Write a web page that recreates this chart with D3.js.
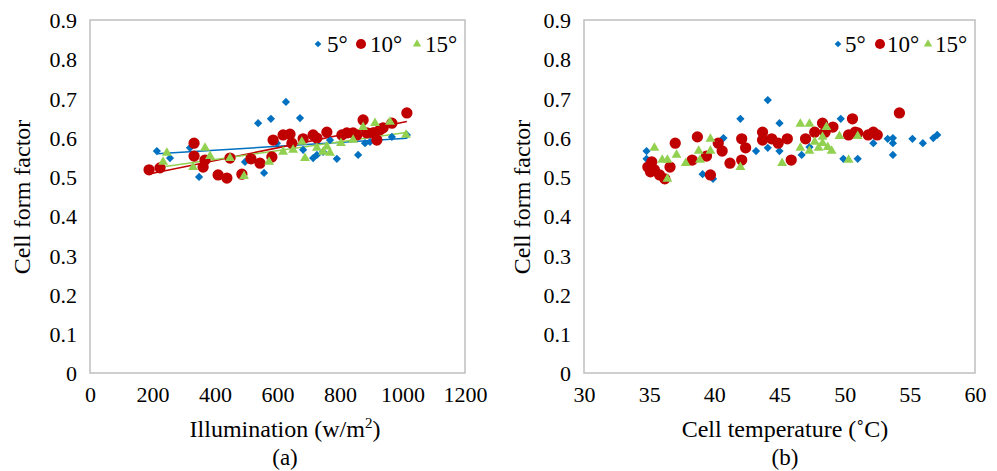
<!DOCTYPE html>
<html>
<head>
<meta charset="utf-8">
<script src="https://cdn.jsdelivr.net/npm/d3@7"></script>
<style>
  body { margin: 0; background: #fff; }
</style>
</head>
<body>
<div id="container"></div>
<script>
// data (a): illumination vs cell form factor
let illum5 = [[214,0.566],[256,0.548],[320,0.574],[349,0.500],[496,0.538],[538,0.637],[579,0.648],[557,0.510],[627,0.691],[672,0.650],[598,0.586],[682,0.569],[714,0.548],[726,0.556],[746,0.564],[768,0.594],[790,0.546],[858,0.556],[880,0.586],[896,0.589],[966,0.602],[1014,0.607]];
let illum10 = [[189,0.518],[224,0.523],[333,0.586],[333,0.553],[362,0.525],[368,0.543],[410,0.505],[438,0.497],[448,0.548],[486,0.507],[515,0.546],[544,0.535],[582,0.551],[586,0.594],[618,0.607],[640,0.609],[646,0.586],[682,0.597],[714,0.607],[726,0.599],[758,0.614],[806,0.607],[822,0.612],[842,0.612],[854,0.607],[874,0.645],[886,0.612],[906,0.612],[918,0.594],[928,0.620],[938,0.625],[966,0.637],[1014,0.663]];
let illum15 = [[234,0.538],[246,0.561],[330,0.525],[368,0.574],[384,0.553],[448,0.548],[493,0.502],[573,0.538],[618,0.564],[650,0.569],[678,0.589],[688,0.548],[726,0.574],[746,0.564],[758,0.577],[768,0.561],[803,0.586],[842,0.594],[874,0.627],[912,0.637],[960,0.640],[1011,0.607]];

// data (b): cell temperature vs cell form factor
let temp5 = [[34.8,0.566],[34.8,0.546],[39.1,0.507],[39.9,0.495],[40.7,0.599],[42.0,0.648],[43.2,0.566],[44.1,0.696],[44.1,0.574],[45.0,0.637],[45.0,0.566],[46.7,0.556],[47.3,0.576],[49.7,0.648],[49.9,0.546],[51.0,0.546],[52.2,0.586],[53.3,0.597],[53.7,0.599],[53.7,0.586],[53.7,0.556],[55.2,0.597],[56.0,0.586],[56.8,0.599],[57.1,0.607]];
let temp10 = [[34.9,0.525],[35.2,0.538],[35.1,0.513],[35.4,0.518],[35.8,0.505],[36.2,0.495],[36.6,0.525],[37.0,0.586],[38.3,0.543],[38.7,0.602],[39.4,0.553],[39.7,0.505],[40.3,0.586],[40.6,0.566],[41.2,0.535],[42.1,0.597],[42.1,0.543],[42.4,0.574],[43.7,0.614],[43.7,0.594],[44.4,0.597],[44.9,0.586],[45.6,0.597],[45.9,0.543],[47.0,0.597],[47.7,0.614],[48.3,0.637],[48.5,0.614],[49.1,0.627],[50.3,0.607],[50.6,0.648],[50.8,0.614],[51.0,0.612],[51.8,0.607],[52.2,0.614],[52.5,0.607],[54.2,0.663]];
let temp15 = [[35.4,0.574],[36.0,0.543],[36.4,0.543],[36.4,0.495],[37.1,0.556],[37.8,0.535],[38.8,0.566],[38.9,0.543],[39.7,0.597],[39.7,0.566],[42.0,0.525],[45.2,0.535],[46.6,0.635],[46.6,0.574],[47.3,0.635],[47.3,0.566],[47.7,0.589],[48.0,0.574],[48.3,0.602],[48.3,0.586],[48.6,0.627],[48.7,0.576],[49.0,0.566],[49.6,0.604],[50.3,0.543],[51.0,0.604]];

let seriesNames = ["5°", "10°", "15°"];
let yTicks = [0, 0.1, 0.2, 0.3, 0.4, 0.5, 0.6, 0.7, 0.8, 0.9];
let xTicksA = [0, 200, 400, 600, 800, 1000, 1200];
let xTicksB = [30, 35, 40, 45, 50, 55, 60];

let serif = '"Liberation Serif", "Times New Roman", Times, Tinos, "Noto Serif", "DejaVu Serif", "Nimbus Roman", FreeSerif, serif';

//画布
let width = 997, height = 471;
let svg = d3.select("#container")
    .append('svg')
    .attr('width', width)
    .attr('height', height)
    .attr('font-family', serif);

let color = ["#0070C0", "#C00000", "#92D050"];
let shapes = [
    d3.symbol().type(d3.symbolSquare).size(34),
    d3.symbol().type(d3.symbolCircle).size(100),
    d3.symbol().type(d3.symbolTriangle).size(42)
];
let legendShapes = [
    d3.symbol().type(d3.symbolSquare).size(22),
    d3.symbol().type(d3.symbolCircle).size(80),
    d3.symbol().type(d3.symbolTriangle).size(30)
];

function fit(pts) {
    let mx = d3.mean(pts, d => d[0]), my = d3.mean(pts, d => d[1]);
    let sxy = d3.sum(pts, d => (d[0] - mx) * (d[1] - my));
    let sxx = d3.sum(pts, d => (d[0] - mx) * (d[0] - mx));
    let b = sxy / sxx;
    return [b, my - b * mx];
}

function txt(sel, size) {
    return sel.attr('font-family', serif).style('font-family', serif).style('font-size', size).style('fill', '#000');
}

function panel(opt) {
    let xScale = d3.scaleLinear().domain(opt.xDomain).range([opt.left, opt.right]);
    let yScale = d3.scaleLinear().domain([0, 0.9]).range([373, 20]);
    let g = svg.append('g');

    //边框
    g.append('rect')
        .attr('x', opt.left).attr('y', 20)
        .attr('width', opt.right - opt.left).attr('height', 353)
        .attr('fill', 'none').attr('stroke', '#bfbfbf').attr('stroke-width', 1.5);

    //坐标轴
    let yAxis = d3.axisLeft(yScale).tickValues(yTicks).tickSize(0).tickPadding(13)
        .tickFormat(d => d === 0 ? "0" : d3.format(".1f")(d));
    let yg = g.append('g').attr('transform', 'translate(' + opt.left + ',0)').call(yAxis);
    yg.attr('font-family', serif);
    yg.select('.domain').remove();
    txt(yg.selectAll('text'), '22px').attr('dy', '0.35em');

    let xAxis = d3.axisBottom(xScale).tickValues(opt.xTicks).tickSize(0).tickPadding(13)
        .tickFormat(d3.format("d"));
    let xg = g.append('g').attr('transform', 'translate(0,373)').call(xAxis);
    xg.attr('font-family', serif);
    xg.select('.domain').remove();
    txt(xg.selectAll('text'), '22px');

    //趋势线
    if (opt.trend) {
        opt.series.forEach(function (pts, i) {
            let ab = fit(pts);
            let x0 = d3.min(pts, d => d[0]), x1 = d3.max(pts, d => d[0]);
            g.append('line')
                .attr('x1', xScale(x0)).attr('y1', yScale(ab[0] * x0 + ab[1]))
                .attr('x2', xScale(x1)).attr('y2', yScale(ab[0] * x1 + ab[1]))
                .attr('stroke', color[i]).attr('stroke-width', 1.5);
        });
    }

    //画点
    opt.series.forEach(function (pts, i) {
        g.append('g').selectAll('path')
            .data(pts)
            .enter()
            .append('path')
            .attr('d', shapes[i])
            .attr('fill', color[i])
            .attr('transform', d => 'translate(' + xScale(d[0]) + ',' + yScale(d[1]) + ')' + (i === 0 ? ' rotate(45)' : ''));
    });

    //图例
    opt.legend.forEach(function (p, i) {
        g.append('path')
            .attr('d', legendShapes[i])
            .attr('fill', color[i])
            .attr('transform', 'translate(' + p[0] + ',44)' + (i === 0 ? ' rotate(45)' : ''));
        txt(g.append('text'), '23px')
            .attr('x', p[1]).attr('y', 52)
            .text(seriesNames[i]);
    });

    //标题
    txt(g.append('text'), '24px')
        .attr('transform', 'translate(' + opt.yTitleX + ',197) rotate(-90)')
        .attr('text-anchor', 'middle')
        .text('Cell form factor');
    txt(g.append('text'), '24px')
        .attr('x', opt.titleX).attr('y', 437)
        .attr('text-anchor', 'middle')
        .html(opt.xTitle);
    txt(g.append('text'), '23px')
        .attr('x', opt.titleX).attr('y', 465)
        .attr('text-anchor', 'middle')
        .text(opt.label);
}

panel({
    left: 90, right: 465, xDomain: [0, 1200], xTicks: xTicksA,
    series: [illum5, illum10, illum15], trend: true,
    legend: [[318, 327], [361, 370], [417, 425]],
    yTitleX: 30, titleX: 285,
    xTitle: 'Illumination (w/m<tspan dy="-9" style="font-size:15px">2</tspan><tspan dy="9">)</tspan>',
    label: '(a)'
});

panel({
    left: 584, right: 975, xDomain: [30, 60], xTicks: xTicksB,
    series: [temp5, temp10, temp15], trend: false,
    legend: [[838, 845], [880, 887], [928, 935]],
    yTitleX: 530, titleX: 785,
    xTitle: 'Cell temperature (˚C)',
    label: '(b)'
});
</script>
</body>
</html>
